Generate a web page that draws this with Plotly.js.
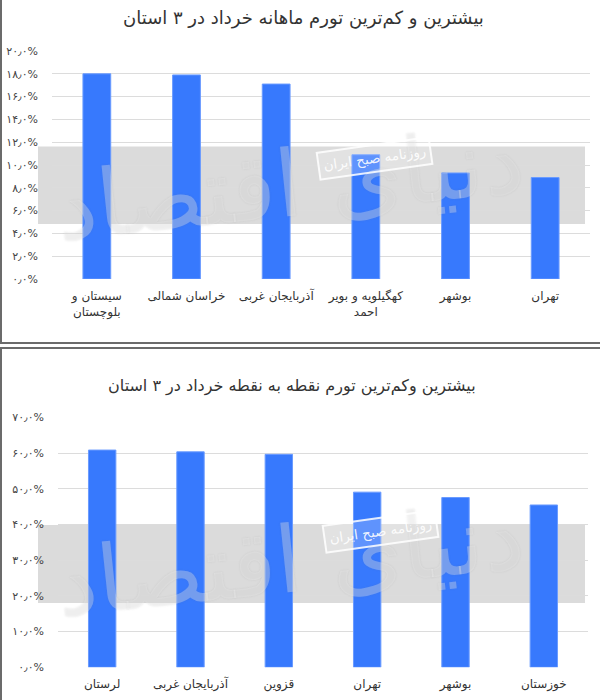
<!DOCTYPE html>
<html>
<head>
<meta charset="utf-8">
<script src="https://cdn.plot.ly/plotly-3.0.1.min.js"></script>
<style>
  html, body { margin: 0; padding: 0; background: #ffffff; }
  #chart { width: 600px; height: 700px; }
</style>
</head>
<body>
<div id="chart"></div>
<script>
// ---- Data ----
var topTitle = "بیشترین و کم\u200cترین تورم ماهانه خرداد در ۳ استان";
var topCategories = ["سیستان و<br>بلوچستان", "خراسان شمالی", "آذربایجان غربی", "کهگیلویه و بویر<br>احمد", "بوشهر", "تهران"];
var topValues = [18.0, 17.9, 17.1, 10.9, 9.3, 8.9];
var topTickValues = [0, 2, 4, 6, 8, 10, 12, 14, 16, 18, 20];
var topTickLabels = ["۰٫۰%", "۲٫۰%", "۴٫۰%", "۶٫۰%", "۸٫۰%", "۱۰٫۰%", "۱۲٫۰%", "۱۴٫۰%", "۱۶٫۰%", "۱۸٫۰%", "۲۰٫۰%"];

var bottomTitle = "بیشترین وکم\u200cترین تورم نقطه به نقطه خرداد در ۳ استان";
var bottomCategories = ["لرستان", "آذربایجان غربی", "قزوین", "تهران", "بوشهر", "خوزستان"];
var bottomValues = [60.9, 60.4, 59.7, 49.1, 47.6, 45.5];
var bottomTickValues = [0, 10, 20, 30, 40, 50, 60, 70];
var bottomTickLabels = ["۰٫۰%", "۱۰٫۰%", "۲۰٫۰%", "۳۰٫۰%", "۴۰٫۰%", "۵۰٫۰%", "۶۰٫۰%", "۷۰٫۰%"];

var watermarkLogo = "دنیای اقتصاد";
var watermarkPaper = "روزنامه صبح ایران";

// ---- Helpers (pixel -> paper) ----
var W = 600, H = 700;
function px(x) { return x / W; }
function py(y) { return (H - y) / H; }

var FONT = "DejaVu Sans, sans-serif";
var barColor = "#3779fd";
var barLine = "#6a9bff";

var traces = [
  {
    type: "bar", x: topCategories, y: topValues, xaxis: "x", yaxis: "y",
    marker: { color: barColor, line: { color: barLine, width: 1 } },
    hoverinfo: "skip", showlegend: false
  },
  {
    type: "bar", x: bottomCategories, y: bottomValues, xaxis: "x2", yaxis: "y2",
    marker: { color: barColor, line: { color: barLine, width: 1 } },
    hoverinfo: "skip", showlegend: false
  }
];

var yCommon = {
  showline: false, zeroline: false, gridcolor: "#dcdcdc", gridwidth: 1,
  tickmode: "array", ticks: "", ticklabelstandoff: 13,
  tickfont: { family: FONT, size: 11, color: "#444444" }, fixedrange: true
};
var xCommon = {
  type: "category", showgrid: false, showline: false, zeroline: false, ticks: "",
  ticklabelstandoff: 8,
  tickfont: { family: FONT, size: 12, color: "#333333" }, fixedrange: true
};

var layout = {
  width: W, height: H,
  margin: { l: 0, r: 0, t: 0, b: 0 },
  paper_bgcolor: "#ffffff", plot_bgcolor: "rgba(0,0,0,0)",
  bargap: 0.69,
  showlegend: false,
  font: { family: FONT },
  xaxis: Object.assign({}, xCommon, { domain: [px(52), px(590)], anchor: "y" }),
  yaxis: Object.assign({}, yCommon, { domain: [py(279), py(51)], anchor: "x", range: [0, 20],
    tickvals: topTickValues, ticktext: topTickLabels }),
  xaxis2: Object.assign({}, xCommon, { domain: [px(58), px(588)], anchor: "y2" }),
  yaxis2: Object.assign({}, yCommon, { domain: [py(667.3), py(417.6)], anchor: "x2", range: [0, 70],
    tickvals: bottomTickValues, ticktext: bottomTickLabels }),
  shapes: [
    // panel frames
    { type: "line", xref: "paper", yref: "paper", x0: px(1), x1: px(1), y0: py(343), y1: 1, line: { color: "#6b6b6b", width: 2 } },
    { type: "line", xref: "paper", yref: "paper", x0: 0, x1: 1, y0: py(343), y1: py(343), line: { color: "#6b6b6b", width: 2 } },
    { type: "line", xref: "paper", yref: "paper", x0: 0, x1: 1, y0: py(348), y1: py(348), line: { color: "#6b6b6b", width: 2 } },
    { type: "line", xref: "paper", yref: "paper", x0: px(1), x1: px(1), y0: 0, y1: py(348), line: { color: "#6b6b6b", width: 2 } },
    // watermark bands
    { type: "rect", xref: "paper", yref: "paper", layer: "below", x0: px(38), x1: px(585), y0: py(224), y1: py(146.5),
      fillcolor: "rgba(160,160,160,0.38)", line: { width: 0 } },
    { type: "rect", xref: "paper", yref: "paper", layer: "below", x0: px(38), x1: px(585), y0: py(603), y1: py(525),
      fillcolor: "rgba(160,160,160,0.38)", line: { width: 0 } }
  ],
  annotations: [
    { text: topTitle, xref: "paper", yref: "paper", x: px(303), y: py(18),
      xanchor: "center", yanchor: "middle", showarrow: false,
      font: { family: FONT, size: 18, color: "#333333" } },
    { text: bottomTitle, xref: "paper", yref: "paper", x: px(292), y: py(386),
      xanchor: "center", yanchor: "middle", showarrow: false,
      font: { family: FONT, size: 16, color: "#333333" } },
    // watermark logo
    { text: watermarkLogo, xref: "paper", yref: "paper", x: px(290), y: py(185), xanchor: "center", yanchor: "middle",
      showarrow: false, textangle: -6,
      font: { family: FONT, size: 92, color: "rgba(255,255,255,0.28)", shadow: "0px 0px 2px rgba(120,120,120,0.6)" } },
    { text: watermarkLogo, xref: "paper", yref: "paper", x: px(290), y: py(560), xanchor: "center", yanchor: "middle",
      showarrow: false, textangle: -6,
      font: { family: FONT, size: 92, color: "rgba(255,255,255,0.28)", shadow: "0px 0px 2px rgba(120,120,120,0.6)" } },
    { text: watermarkPaper, xref: "paper", yref: "paper", x: px(374), y: py(158), xanchor: "center", yanchor: "middle",
      showarrow: false, textangle: -8, bgcolor: "rgba(255,255,255,0.2)", bordercolor: "rgba(255,255,255,0.85)",
      borderwidth: 2, borderpad: 4,
      font: { family: FONT, size: 13.5, color: "rgba(255,255,255,0.9)" } },
    { text: watermarkPaper, xref: "paper", yref: "paper", x: px(380), y: py(531), xanchor: "center", yanchor: "middle",
      showarrow: false, textangle: -8, bgcolor: "rgba(255,255,255,0.2)", bordercolor: "rgba(255,255,255,0.85)",
      borderwidth: 2, borderpad: 4,
      font: { family: FONT, size: 13.5, color: "rgba(255,255,255,0.9)" } }
  ]
};

Plotly.newPlot("chart", traces, layout, { displayModeBar: false, staticPlot: true });
</script>
</body>
</html>
